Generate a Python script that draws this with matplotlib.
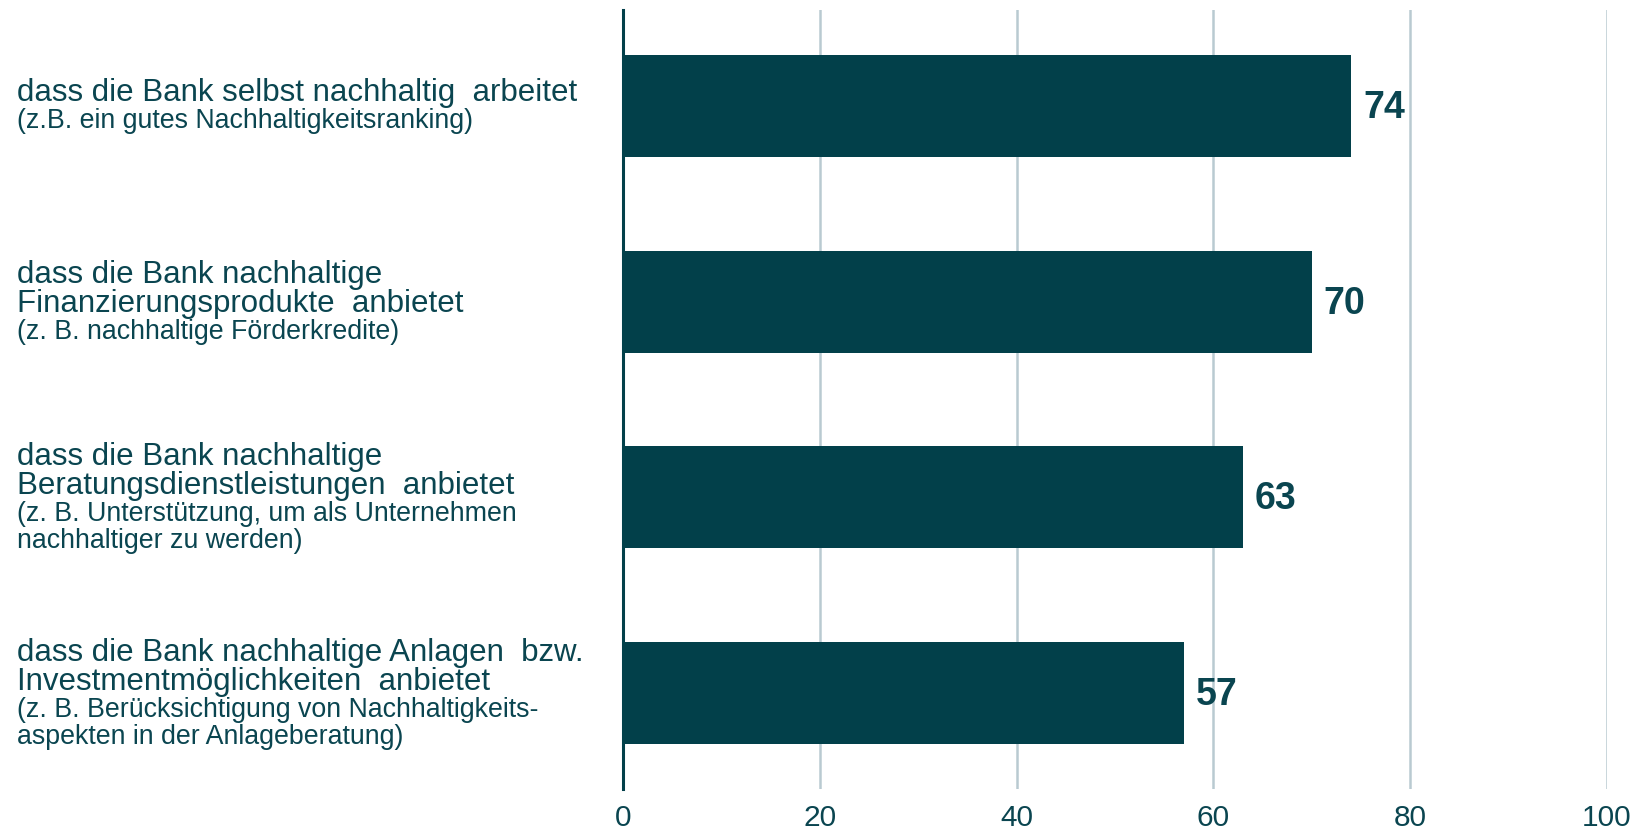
import matplotlib
matplotlib.use("Agg")
import matplotlib.pyplot as plt

# data
main_lines = [
    ["dass die Bank selbst nachhaltig  arbeitet"],
    ["dass die Bank nachhaltige", "Finanzierungsprodukte  anbietet"],
    ["dass die Bank nachhaltige", "Beratungsdienstleistungen  anbietet"],
    ["dass die Bank nachhaltige Anlagen  bzw.", "Investmentmöglichkeiten  anbietet"],
]
sub_lines = [
    ["(z.B. ein gutes Nachhaltigkeitsranking)"],
    ["(z. B. nachhaltige Förderkredite)"],
    ["(z. B. Unterstützung, um als Unternehmen", "nachhaltiger zu werden)"],
    ["(z. B. Berücksichtigung von Nachhaltigkeits-", "aspekten in der Anlageberatung)"],
]
values = [74, 70, 63, 57]
xticks = [0, 20, 40, 60, 80, 100]

plt.rcParams['font.family'] = ['Liberation Sans', 'DejaVu Sans']

bar_col = "#02404A"
txt_col = "#0A4550"
grid_col = "#B9CAD1"

fig = plt.figure(figsize=(16.33, 8.33), dpi=100)
ax = fig.add_axes([0.3815, 0.0528, 0.6025, 0.9352])

ypos = list(range(len(values)))
ax.barh(ypos, values, height=0.52, color=bar_col, zorder=3)
ax.set_xlim(0, 100)
ax.set_ylim(3.49, -0.49)

for sp in ["top", "right", "bottom"]:
    ax.spines[sp].set_visible(False)
ax.spines["left"].set_color(bar_col)
ax.spines["left"].set_linewidth(2.2)
ax.spines["left"].set_zorder(4)

ax.set_xticks(xticks)
ax.set_xticklabels([str(t) for t in xticks], fontsize=21.5, color=txt_col)
ax.tick_params(axis="x", length=0, pad=11)
ax.set_yticks([])
for t in xticks[1:]:
    ax.axvline(t, color=grid_col, lw=1.8, zorder=1)

for i, v in enumerate(values):
    ax.annotate(str(v), xy=(v, i), xytext=(12, -2), textcoords="offset pixels",
                ha="left", va="center", fontsize=27, fontweight="bold",
                color=txt_col)

# category labels: main lines larger, explanation lines smaller
main_h, sub_h = 29, 27
for i in range(len(values)):
    lines = [(s, 22.5) for s in main_lines[i]] + [(s, 19.3) for s in sub_lines[i]]
    heights = [main_h] * len(main_lines[i]) + [sub_h] * len(sub_lines[i])
    total = sum(heights)
    y = -total / 2
    for (s, fs), h in zip(lines, heights):
        yc = y + h / 2
        ax.annotate(s, xy=(17, i), xycoords=("figure pixels", "data"),
                    xytext=(0, -yc - 1), textcoords="offset pixels",
                    ha="left", va="center", fontsize=fs, color=txt_col)
        y += h

fig.savefig("out.png", dpi=100)
